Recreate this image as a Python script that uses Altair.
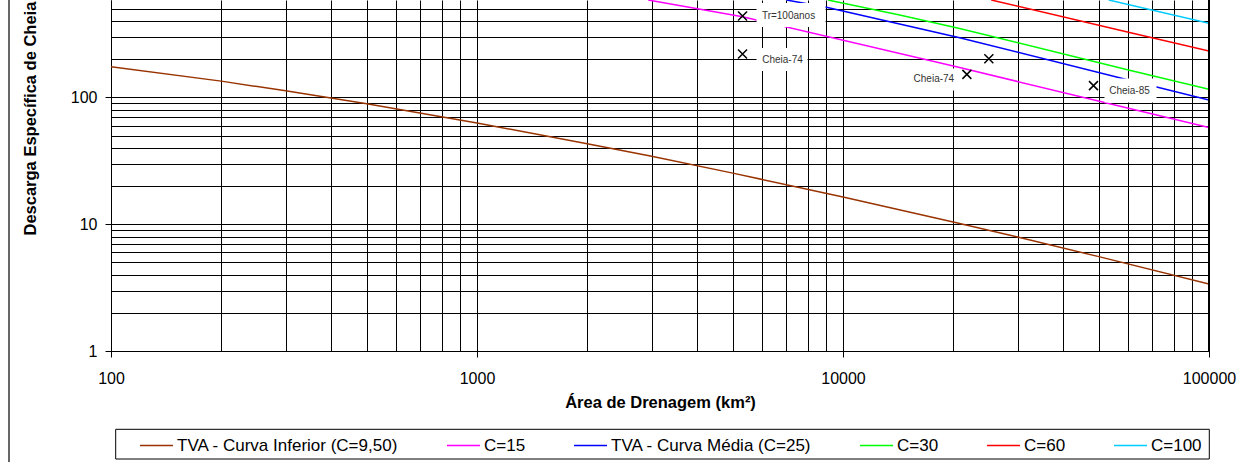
import altair as alt
import pandas as pd

# Series names and colours, in legend order
serie_nomes = [
    "TVA - Curva Inferior (C=9,50)",
    "C=15",
    "TVA - Curva Média (C=25)",
    "C=30",
    "C=60",
    "C=100",
]
serie_cores = ["#993300", "#FF00FF", "#0000FF", "#00FF00", "#FF0000", "#00CCFF"]

# Drainage area (km²) and specific flood discharge for each curve
area_inferior = [100, 200, 300, 500, 1000, 2000, 3000, 5000, 10000, 20000, 30000, 50000, 100000]
q_inferior = [175, 134.5, 112.7, 89.0, 62.9, 43.2, 34.3, 25.3, 16.4, 10.4, 7.93, 5.55, 3.38]

area_c15 = [2936, 5315, 20830, 60260, 100000]
q_c15 = [587, 433, 172, 82.2, 57.8]

area_c25 = [7006, 9010, 20830, 60260, 100000]
q_c25 = [587, 514, 296, 137.4, 95.6]

area_c30 = [9100, 14280, 20830, 60260, 100000]
q_c30 = [587, 447, 350, 164.8, 116]

area_c60 = [25410, 60260, 100000]
q_c60 = [587, 327, 232.6]

area_c100 = [53230, 100000]
q_c100 = [587, 384.8]

# Observed floods
obs_area = [5315, 5315, 21800, 25030, 48350]
obs_q = [439, 220, 152, 202, 124]
obs_rotulo = ["Tr=100anos", "Cheia-74", "Cheia-74", "", "Cheia-85"]

# Axis ranges and gridline positions
x_dominio = [100, 100000]
y_dominio = [1, 587]
x_grade = [m * 10 ** e for e in (2, 3, 4) for m in range(1, 10)] + [100000]
y_grade = [m * 10 ** e for e in (0, 1) for m in range(1, 10)] + [100, 200, 300, 400, 500]

W, H = 1098, 351
FONTE = "Liberation Sans"

curvas = [
    (serie_nomes[0], area_inferior, q_inferior),
    (serie_nomes[1], area_c15, q_c15),
    (serie_nomes[2], area_c25, q_c25),
    (serie_nomes[3], area_c30, q_c30),
    (serie_nomes[4], area_c60, q_c60),
    (serie_nomes[5], area_c100, q_c100),
]
linhas = []
for nome, areas, qs in curvas:
    for a, q in zip(areas, qs):
        linhas.append({"serie": nome, "area": a, "q": q})
df_linhas = pd.DataFrame(linhas)
df_obs = pd.DataFrame({"area": obs_area, "q": obs_q, "rotulo": obs_rotulo})

DECADA = "abs(log(datum.value) / LN10 - round(log(datum.value) / LN10)) < 0.001"

eixo_x = alt.Axis(
    values=x_grade,
    grid=True, gridColor="black", gridWidth=1, gridOpacity=1,
    domainColor="black", domainWidth=1,
    tickColor="black", tickSize=6, tickWidth=1,
    tickOpacity={"condition": {"test": DECADA, "value": 1}, "value": 0},
    labelExpr=f"{DECADA} ? format(datum.value, 'd') : ''",
    labelFont=FONTE, labelFontSize=16, labelColor="black",
    labelPadding=13, labelOverlap=False, labelFlush=False, labelBound=False,
    title="Área de Drenagem (km²)",
    titleFont=FONTE, titleFontSize=16.5, titleFontWeight="bold", titleColor="black",
    titleX=W / 2, titleY=51, titleAlign="center", titleBaseline="middle",
)
eixo_y = alt.Axis(
    values=y_grade,
    grid=True, gridColor="black", gridWidth=1, gridOpacity=1,
    domainColor="black", domainWidth=1,
    tickColor="black", tickSize=6, tickWidth=1,
    tickOpacity={"condition": {"test": DECADA, "value": 1}, "value": 0},
    labelExpr=f"{DECADA} ? format(datum.value, 'd') : ''",
    labelFont=FONTE, labelFontSize=16, labelColor="black",
    labelPadding=8, labelOverlap=False, labelFlush=False, labelBound=False,
    title="Descarga Específica de Cheia (l/s.km²)",
    titleFont=FONTE, titleFontSize=16.5, titleFontWeight="bold", titleColor="black",
    titleAngle=270, titleX=-81, titleY=235, titleAlign="left", titleBaseline="middle",
)

X = alt.X("area:Q", scale=alt.Scale(type="log", domain=x_dominio, nice=False), axis=eixo_x)
Y = alt.Y("q:Q", scale=alt.Scale(type="log", domain=y_dominio, nice=False), axis=eixo_y)

legenda = alt.Legend(
    title=None, orient="none", legendX=28, legendY=428,
    direction="horizontal", columns=6, columnPadding=45, gridAlign="none",
    symbolType="stroke", symbolSize=1089, symbolStrokeWidth=1.5,
    labelFont=FONTE, labelFontSize=17, labelColor="black", labelOffset=3,
    labelLimit=400, padding=0,
)

curvas_chart = alt.Chart(df_linhas).mark_line(strokeWidth=1.5, clip=True).encode(
    x=X, y=Y,
    color=alt.Color("serie:N", scale=alt.Scale(domain=serie_nomes, range=serie_cores),
                    sort=serie_nomes, legend=legenda),
)

# Data labels: text offset and white background box, in pixels around the point
estilo_rotulo = {
    0: {"dx": 46, "dy": 0, "caixa": "M14,-13H83V11H14Z"},
    1: {"dx": 40, "dy": 6, "caixa": "M14,-6H65V17H14Z"},
    2: {"dx": -33, "dy": 5, "caixa": "M-59,-6H-9V16H-59Z"},
    4: {"dx": 36, "dy": 5, "caixa": "M11,-7H63V17H11Z"},
}

caixas, textos = [], []
for i, est in estilo_rotulo.items():
    ponto = df_obs.iloc[[i]]
    caixas.append(
        alt.Chart(ponto).mark_point(shape=est["caixa"], size=4, filled=True, fill="white",
                                    opacity=1, strokeOpacity=0, clip=True)
        .encode(x=X, y=Y)
    )
    textos.append(
        alt.Chart(ponto).mark_text(align="center", baseline="middle", font=FONTE, fontSize=10,
                                   color="#333333", dx=est["dx"], dy=est["dy"])
        .encode(x=X, y=Y, text="rotulo:N")
    )

marcadores = alt.Chart(df_obs).mark_point(
    shape="M-1,-1L1,1M-1,1L1,-1", size=81, filled=False, color="black",
    strokeWidth=1.5, opacity=1,
).encode(x=X, y=Y)

borda_direita = alt.Chart(pd.DataFrame({"area": [x_dominio[1]]})).mark_rule(
    color="black", strokeWidth=2
).encode(x=X)

moldura = alt.Chart(pd.DataFrame({"k": [0]})).mark_rule(
    color="black", strokeWidth=1.2, clip=False
).encode(x=alt.value(-102), y=alt.value(-10), y2=alt.value(480))

caixa_legenda = alt.Chart(pd.DataFrame({"k": [0]})).mark_rect(
    fill="white", stroke="black", strokeWidth=1, clip=False
).encode(x=alt.value(4.7), x2=alt.value(1098.3), y=alt.value(429.3), y2=alt.value(459))

chart = alt.layer(
    curvas_chart, *caixas, marcadores, *textos, borda_direita, moldura, caixa_legenda
).properties(
    width=W, height=H,
    autosize=alt.AutoSizeParams(type="none"),
    padding={"left": 111, "top": 0, "right": 29, "bottom": 111},
    background="white",
).configure_view(stroke=None)

chart.save("out.html", embed_options={"renderer": "svg", "actions": False})
